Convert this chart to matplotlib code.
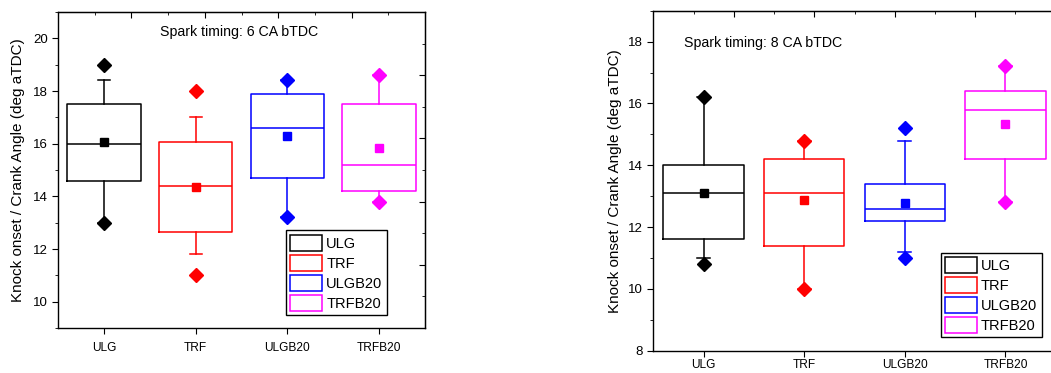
import matplotlib
matplotlib.use("Agg")
import matplotlib.pyplot as plt
from matplotlib.patches import Patch
from matplotlib.ticker import MultipleLocator

plt.rcParams['font.family'] = ['Liberation Sans', 'DejaVu Sans']

categories = ["ULG", "TRF", "ULGB20", "TRFB20"]
colors = ["black", "red", "blue", "magenta"]

# Spark timing 6 CA bTDC
st6_min = [13.0, 11.0, 13.2, 13.8]
st6_whislo = [13.0, 11.8, 13.2, 13.8]
st6_q1 = [14.6, 12.65, 14.7, 14.2]
st6_med = [16.0, 14.4, 16.6, 15.2]
st6_mean = [16.05, 14.37, 16.3, 15.85]
st6_q3 = [17.5, 16.08, 17.88, 17.5]
st6_whishi = [18.4, 17.0, 18.4, 18.6]
st6_max = [19.0, 18.0, 18.4, 18.6]

# Spark timing 8 CA bTDC
st8_min = [10.8, 10.0, 11.0, 12.8]
st8_whislo = [11.0, 10.0, 11.2, 12.8]
st8_q1 = [11.6, 11.4, 12.2, 14.2]
st8_med = [13.1, 13.1, 12.6, 15.8]
st8_mean = [13.1, 12.88, 12.77, 15.34]
st8_q3 = [14.0, 14.2, 13.4, 16.4]
st8_whishi = [16.2, 14.8, 14.8, 17.2]
st8_max = [16.2, 14.8, 15.2, 17.2]

fig = plt.figure(figsize=(10.51, 3.73), dpi=100)
ax1 = fig.add_axes([0.0552, 0.1206, 0.3492, 0.8472])
ax2 = fig.add_axes([0.6216, 0.0598, 0.3829, 0.9115])


def draw(ax, mn, wlo, q1, med, mean, q3, whi, mx, pad):
    for i, c in enumerate(colors):
        stats = [dict(med=med[i], q1=q1[i], q3=q3[i], whislo=wlo[i], whishi=whi[i],
                      mean=mean[i], fliers=[mn[i], mx[i]])]
        ax.bxp(stats, positions=[i + 1], widths=0.8, capwidths=0.13, showmeans=True,
               showfliers=True, patch_artist=False,
               boxprops=dict(color=c, lw=1.1),
               medianprops=dict(color=c, lw=1.1),
               whiskerprops=dict(color=c, lw=1.1),
               capprops=dict(color=c, lw=1.1),
               meanprops=dict(marker='s', markerfacecolor=c, markeredgecolor=c, markersize=6),
               flierprops=dict(marker='D', markerfacecolor=c, markeredgecolor=c, markersize=7))
    ax.set_xlim(0.5, 4.5)
    ax.set_xticks(range(1, 5))
    ax.set_xticklabels(categories, fontsize=8.6)
    ax.yaxis.set_major_locator(MultipleLocator(2))
    ax.yaxis.set_minor_locator(MultipleLocator(1))
    ax.tick_params(axis='y', which='major', direction='out', length=4, labelsize=9.5)
    ax.tick_params(axis='y', which='minor', direction='out', length=2.5)
    ax.tick_params(axis='x', direction='out', length=4, pad=pad)
    ax.set_ylabel("Knock onset / Crank Angle (deg aTDC)", fontsize=11)
    for s in ax.spines.values():
        s.set_linewidth(1.0)
    top = ax.secondary_xaxis('top')
    top.set_xticks([1.3, 2.1, 2.9, 3.7])
    top.set_xticks([0.9, 1.7, 2.5, 3.3, 4.1], minor=True)
    top.tick_params(which='major', direction='in', length=4, labeltop=False)
    top.tick_params(which='minor', direction='in', length=2.5)
    top.set_xticklabels([])
    handles = [Patch(facecolor='white', edgecolor=c, lw=1.1) for c in colors]
    return handles


legend_kw = dict(fontsize=10.5, frameon=True, fancybox=False, edgecolor='black',
                 framealpha=1, handlelength=2.2, handleheight=1.3, borderpad=0.3,
                 labelspacing=0.28, handletextpad=0.27, borderaxespad=0)

h = draw(ax1, st6_min, st6_whislo, st6_q1, st6_med, st6_mean, st6_q3, st6_whishi, st6_max, 6)
ax1.set_ylim(9, 21)
ax1.yaxis.set_label_coords(-0.09, 0.5)
r1 = ax1.secondary_yaxis('right')
r1.set_yticks([11.4, 13.8, 16.2, 18.6])
r1.set_yticks([10.2, 12.6, 15.0, 17.4, 19.8], minor=True)
r1.tick_params(which='major', direction='in', length=4)
r1.tick_params(which='minor', direction='in', length=2.5)
r1.set_yticklabels([])
ax1.text(0.493, 0.937, "Spark timing: 6 CA bTDC", transform=ax1.transAxes,
         ha='center', va='center', fontsize=10.2)
leg1 = ax1.legend(h, categories, loc='lower right', bbox_to_anchor=(0.896, 0.041), **legend_kw)
leg1.get_frame().set_linewidth(1.0)

h = draw(ax2, st8_min, st8_whislo, st8_q1, st8_med, st8_mean, st8_q3, st8_whishi, st8_max, 2)
ax2.set_ylim(8, 19)
ax2.yaxis.set_label_coords(-0.0785, 0.5)
ax2.text(0.076, 0.905, "Spark timing: 8 CA bTDC", transform=ax2.transAxes,
         ha='left', va='center', fontsize=10.2)
leg2 = ax2.legend(h, categories, loc='lower right', bbox_to_anchor=(0.965, 0.040), **legend_kw)
leg2.get_frame().set_linewidth(1.0)

fig.savefig("out.png", dpi=100)
